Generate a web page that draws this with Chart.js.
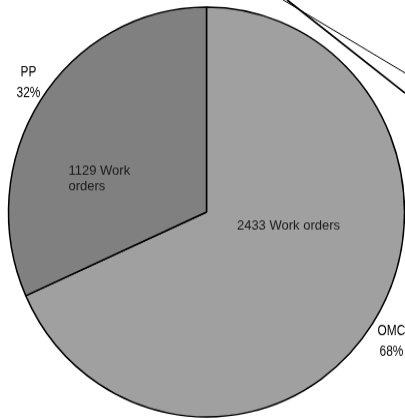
<!DOCTYPE html>
<html lang="en">
<head>
<meta charset="UTF-8">
<title>Work orders</title>
<script src="https://cdn.jsdelivr.net/npm/chart.js"></script>
<style>
  html, body { margin: 0; padding: 0; background: #fff; overflow: hidden; }
  #wrap { width: 405px; height: 419px; overflow: hidden; }
  /* the original pie is slightly taller than it is wide */
  #pieChart { width: 405px; height: 419px; transform: scaleY(1.035); transform-origin: 206px 212px; }
</style>
</head>
<body>
<div id="wrap"><canvas id="pieChart" width="405" height="419"></canvas></div>
<script>
const categories = ['OMC', 'PP'];
const workOrders = [2433, 1129];
const percentLabels = ['68%', '32%'];
const innerLabels = [['2433 Work orders'], ['1129 Work', 'orders']];
const sliceColors = ['#a0a0a0', '#808080'];

// label placement, as fractions of the radius from the centre
const innerPos = [[0.414, 0.068], [-0.697, -0.161]];
const outerPos = [[0.934, 0.632], [-0.899, -0.633]];

const labelPlugin = {
  id: 'pieLabels',
  afterDatasetsDraw(chart) {
    const ctx = chart.ctx;
    const arcs = chart.getDatasetMeta(0).data;
    arcs.forEach((arc, i) => {
      const r = arc.outerRadius;
      ctx.save();
      ctx.fillStyle = '#1a1a1a';
      ctx.font = '13px "Liberation Sans", Arial, sans-serif';
      ctx.textBaseline = 'middle';
      const ix = arc.x + innerPos[i][0] * r;
      const iy = arc.y + innerPos[i][1] * r;
      ctx.textAlign = i === 0 ? 'center' : 'left';
      innerLabels[i].forEach((line, k) => ctx.fillText(line, ix, iy + (k - (innerLabels[i].length - 1) / 2) * 15));
      ctx.restore();

      // outer labels use a squeezed face like the original
      ctx.save();
      ctx.fillStyle = '#000';
      ctx.font = '14px "Liberation Sans", Arial, sans-serif';
      ctx.textAlign = 'center';
      ctx.textBaseline = 'middle';
      const ox = arc.x + outerPos[i][0] * r;
      const oy = arc.y + outerPos[i][1] * r;
      ctx.translate(ox, oy);
      ctx.scale(0.85, 1);
      ctx.fillText(categories[i], 0, -10);
      ctx.fillText(percentLabels[i], 0, 10);
      ctx.restore();
    });

    // stray leader lines in the top right corner
    const w = chart.width;
    ctx.save();
    ctx.strokeStyle = '#000';
    ctx.lineWidth = 1;
    ctx.beginPath();
    ctx.moveTo(w - 122, 7);
    ctx.lineTo(w, 77.6);
    ctx.stroke();
    ctx.lineWidth = 1.6;
    ctx.beginPath();
    ctx.moveTo(w - 118, 7);
    ctx.lineTo(w, 97);
    ctx.stroke();
    ctx.restore();
  }
};

new Chart(document.getElementById('pieChart'), {
  type: 'pie',
  data: {
    labels: categories,
    datasets: [{
      data: workOrders,
      backgroundColor: sliceColors,
      borderColor: '#000',
      borderWidth: 1.5,
      radius: 198
    }]
  },
  options: {
    responsive: false,
    animation: false,
    layout: { padding: { left: 8, right: 0, top: 10, bottom: 5 } },
    plugins: {
      legend: { display: false },
      tooltip: { enabled: false }
    }
  },
  plugins: [labelPlugin]
});
</script>
</body>
</html>
